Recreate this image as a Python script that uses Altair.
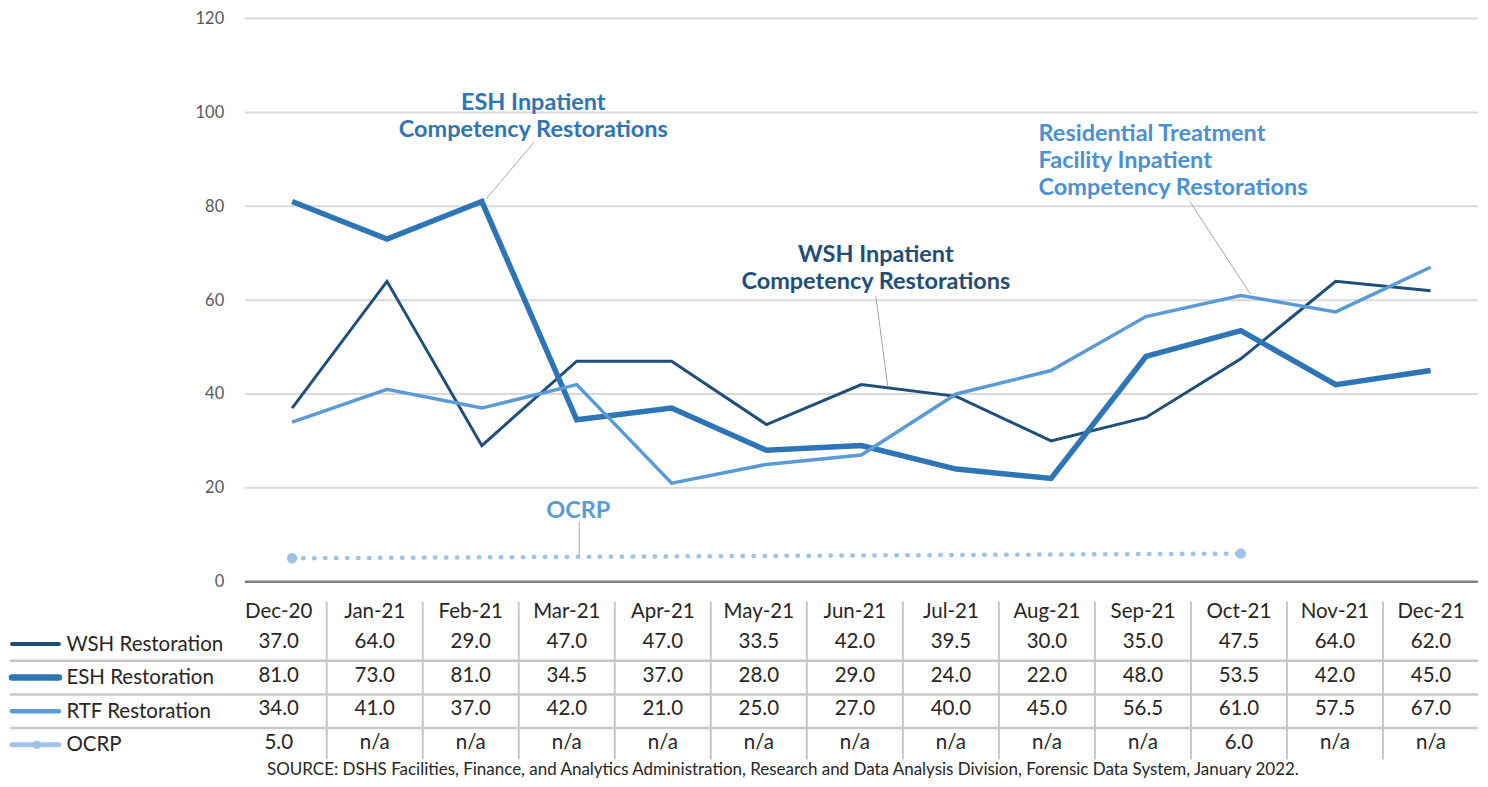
import altair as alt
import pandas as pd

# ---------------- data ----------------
months = ["Dec-20", "Jan-21", "Feb-21", "Mar-21", "Apr-21", "May-21", "Jun-21",
          "Jul-21", "Aug-21", "Sep-21", "Oct-21", "Nov-21", "Dec-21"]
wsh_values = [37.0, 64.0, 29.0, 47.0, 47.0, 33.5, 42.0, 39.5, 30.0, 35.0, 47.5, 64.0, 62.0]
esh_values = [81.0, 73.0, 81.0, 34.5, 37.0, 28.0, 29.0, 24.0, 22.0, 48.0, 53.5, 42.0, 45.0]
rtf_values = [34.0, 41.0, 37.0, 42.0, 21.0, 25.0, 27.0, 40.0, 45.0, 56.5, 61.0, 57.5, 67.0]
ocrp_values = [5.0, None, None, None, None, None, None, None, None, None, 6.0, None, None]
series_names = ["WSH Restoration", "ESH Restoration", "RTF Restoration", "OCRP"]
y_ticks = [0, 20, 40, 60, 80, 100, 120]
source_note = ("SOURCE: DSHS Facilities, Finance, and Analytics Administration, Research and "
               "Data Analysis Division, Forensic Data System, January 2022.")

# annotation texts (callouts)
esh_callout = ["ESH Inpatient", "Competency Restorations"]
wsh_callout = ["WSH Inpatient", "Competency Restorations"]
rtf_callout = ["Residential Treatment", "Facility Inpatient", "Competency Restorations"]
ocrp_callout = ["OCRP"]

# ---------------- styles ----------------
FONT = "Lato"
COLORS = {"WSH Restoration": "#1f4e79", "ESH Restoration": "#2e75b6",
          "RTF Restoration": "#5b9bd5", "OCRP": "#9dc3e6"}
WIDTHS = {"WSH Restoration": 3, "ESH Restoration": 5.5, "RTF Restoration": 3.5, "OCRP": 4}
TABLE_FS = 20.5
ANN_FS = 23.5

# ---------------- tables ----------------
rows = []
for r, (name, vals) in enumerate(zip(series_names, [wsh_values, esh_values, rtf_values, ocrp_values])):
    for i, (m, v) in enumerate(zip(months, vals)):
        rows.append({"series": name, "idx": i, "month": m, "value": v,
                     "label": "n/a" if v is None else f"{v:.1f}", "row": r + 1})
df = pd.DataFrame(rows)

ann_center = pd.DataFrame([
    {"x": 2.542, "y": 102.2, "text": esh_callout[0], "color": "#2e75b6"},
    {"x": 2.542, "y": 96.5, "text": esh_callout[1], "color": "#2e75b6"},
    {"x": 6.153, "y": 69.75, "text": wsh_callout[0], "color": "#1f4e79"},
    {"x": 6.153, "y": 64.0, "text": wsh_callout[1], "color": "#1f4e79"},
    {"x": 3.016, "y": 15.3, "text": ocrp_callout[0], "color": "#5b9bd5"},
])
ann_left = pd.DataFrame([
    {"x": 7.868, "y": 95.6, "text": rtf_callout[0], "color": "#4a90d4"},
    {"x": 7.868, "y": 89.9, "text": rtf_callout[1], "color": "#4a90d4"},
    {"x": 7.868, "y": 84.2, "text": rtf_callout[2], "color": "#4a90d4"},
])
leaders = pd.DataFrame([
    {"x": 2.553, "y": 93.7, "x1": 2.047, "y1": 81.6},
    {"x": 6.153, "y": 60.85, "x1": 6.279, "y1": 41.55},
    {"x": 9.463, "y": 81.0, "x1": 10.1, "y1": 61.3},
    {"x": 3.026, "y": 12.9, "x1": 3.026, "y1": 5.6},
])

# ---------------- top chart ----------------
xs_top = alt.Scale(domain=[-0.6474, 12.5], nice=False, zero=False)
ys_top = alt.Scale(domain=[0, 120], nice=False, zero=False)
y_axis = alt.Axis(values=y_ticks, grid=False, domain=False, ticks=False, tickSize=0,
                  labelPadding=7, labelFont=FONT, labelFontSize=16.5, labelColor="#595959", title=None)


def X(f):
    return alt.X(f, type="quantitative", scale=xs_top, axis=None)


def Y(f):
    return alt.Y(f, type="quantitative", scale=ys_top, axis=y_axis)


grid_df = pd.DataFrame({"tick": y_ticks})
grid = (alt.Chart(grid_df).transform_filter("datum.tick > 0")
        .transform_calculate(x0="-0.5", x1="12.5")
        .mark_rule(color="#d9d9d9", strokeWidth=2)
        .encode(x=X("x0"), x2=alt.X2("x1"), y=Y("tick")))
baseline = (alt.Chart(grid_df).transform_filter("datum.tick == 0")
            .transform_calculate(x0="-0.5", x1="12.5")
            .mark_rule(color="#808080", strokeWidth=2.5)
            .encode(x=X("x0"), x2=alt.X2("x1"), y=Y("tick")))


def series_line(name):
    return (alt.Chart(df).transform_filter(alt.datum.series == name)
            .mark_line(color=COLORS[name], strokeWidth=WIDTHS[name])
            .encode(x=X("idx"), y=Y("value")))


ocrp_line = (alt.Chart(df)
             .transform_filter("datum.series == 'OCRP' && isValid(datum.value)")
             .mark_line(color=COLORS["OCRP"], strokeWidth=4.5, strokeDash=[0.5, 10.5], strokeCap="round")
             .encode(x=X("idx"), y=Y("value")))
ocrp_pts = (alt.Chart(df)
            .transform_filter("datum.series == 'OCRP' && isValid(datum.value)")
            .mark_circle(color=COLORS["OCRP"], size=110, opacity=1)
            .encode(x=X("idx"), y=Y("value")))

leader_rules = (alt.Chart(leaders).mark_rule(color="#a6a6a6", strokeWidth=1)
                .encode(x=X("x"), y=Y("y"), x2=alt.X2("x1"), y2=alt.Y2("y1")))
text_c = (alt.Chart(ann_center)
          .mark_text(font=FONT, fontSize=ANN_FS, fontWeight="bold", align="center",
                     baseline="middle", dy=1)
          .encode(x=X("x"), y=Y("y"), text="text:N", color=alt.Color("color:N", scale=None)))
text_l = (alt.Chart(ann_left)
          .mark_text(font=FONT, fontSize=ANN_FS, fontWeight="bold", align="left",
                     baseline="middle", dy=1)
          .encode(x=X("x"), y=Y("y"), text="text:N", color=alt.Color("color:N", scale=None)))

top = alt.layer(
    grid, baseline,
    series_line("WSH Restoration"), series_line("ESH Restoration"), series_line("RTF Restoration"),
    ocrp_line, ocrp_pts, leader_rules, text_c, text_l,
).properties(width=1249, height=564)

# ---------------- data table ----------------
xs_tab = alt.Scale(domain=[-0.5, 12.5], nice=False, zero=False)
ys_tab = alt.Scale(domain=[-0.5, 4.5], reverse=True, nice=False, zero=False)
label_expr = "[''," + ",".join(f"'{n}'" for n in series_names) + "][datum.value]"
tab_axis = alt.Axis(values=[1, 2, 3, 4], labelExpr=label_expr, grid=False, domain=False,
                    ticks=False, tickSize=0, labelAlign="left", labelPadding=165,
                    labelFont=FONT, labelFontSize=TABLE_FS, labelColor="#262626", title=None)


def XT(f):
    return alt.X(f, type="quantitative", scale=xs_tab, axis=None)


def YT(f):
    return alt.Y(f, type="quantitative", scale=ys_tab, axis=tab_axis)


vsep_df = pd.DataFrame({"edge": [k + 0.5 for k in range(12)]})
vsep = (alt.Chart(vsep_df).mark_rule(color="#c8c8c8", strokeWidth=2)
        .encode(x=XT("edge"), y=alt.value(8), y2=alt.value(166)))
hsep_df = pd.DataFrame({"edge": [1.5, 2.5, 3.5]})
hsep = (alt.Chart(hsep_df).mark_rule(color="#c8c8c8", strokeWidth=2.5)
        .encode(x=alt.value(-221), x2=alt.value(1249), y=YT("edge")))

header_df = pd.DataFrame({"idx": list(range(len(months))), "month": months})
header = (alt.Chart(header_df).transform_calculate(row="0")
          .mark_text(font=FONT, fontSize=TABLE_FS, color="#262626", baseline="middle", dy=2)
          .encode(x=XT("idx"), y=YT("row"), text="month:N"))
cells = (alt.Chart(df).mark_text(font=FONT, fontSize=TABLE_FS, color="#262626", baseline="middle", dy=-2)
         .encode(x=XT("idx"), y=YT("row"), text="label:N"))

key_df = pd.DataFrame({"series": series_names, "row": [1, 2, 3, 4],
                       "color": [COLORS[n] for n in series_names],
                       "w": [WIDTHS[n] + 1 for n in series_names]})
keys = (alt.Chart(key_df).mark_rule(strokeCap="round")
        .encode(x=alt.value(-219), x2=alt.value(-172), y=YT("row"),
                color=alt.Color("color:N", scale=None),
                strokeWidth=alt.StrokeWidth("w:Q", scale=None)))
key_dot = (alt.Chart(key_df).transform_filter("datum.series == 'OCRP'")
           .mark_circle(size=70, opacity=1)
           .encode(x=alt.value(-194), y=YT("row"), color=alt.Color("color:N", scale=None)))

table = alt.layer(vsep, hsep, keys, key_dot, header, cells).properties(
    width=1250, height=168,
    title=alt.TitleParams(source_note, orient="bottom", anchor="middle", frame="group",
                          dx=-72, offset=1, font=FONT, fontSize=17, fontWeight="normal",
                          color="#262626"),
)

chart = (alt.vconcat(top, table, spacing=12, bounds="flush")
         .properties(padding={"left": 0, "top": 2, "right": 0, "bottom": 0}, background="white")
         .configure_view(stroke=None))

chart.save("out.html", embed_options={"renderer": "svg", "actions": False})
